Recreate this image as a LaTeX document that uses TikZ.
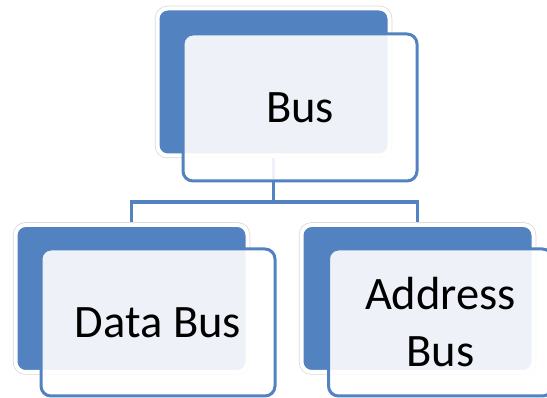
\documentclass[tikz,border=0pt]{standalone}
\usepackage{fontspec}
\setmainfont{Carlito}
\usetikzlibrary{backgrounds}
\definecolor{accent}{HTML}{5283C0}
\definecolor{frontfill}{HTML}{FFFFFF}
\tikzset{
  backbox/.style={rectangle, rounded corners=10pt, fill=accent, draw=white,
    line width=4pt, preaction={draw=black!15, line width=5.5pt},
    minimum width=232pt, minimum height=147pt, inner sep=0pt},
  frontbox/.style={rectangle, rounded corners=10pt, fill=frontfill, fill opacity=0.9,
    text opacity=1, draw=accent, line width=3pt, draw opacity=1,
    minimum width=234pt, minimum height=147pt, inner sep=0pt,
    align=center, font=\fontsize{46.5pt}{57pt}\selectfont},
  link/.style={draw=accent, line width=3.5pt}
}
\begin{document}
\begin{tikzpicture}[x=1pt,y=-1pt]
\useasboundingbox (0,0) rectangle (547,398);

% top level
\node[backbox] (busback) at (273.5,82) {};
\node[frontbox] (bus) at (300,107.5) {Bus};

% second level
\node[backbox] (databack) at (131.5,298.5) {};
\node[frontbox] (data) at (158,322.5) {Data Bus};

\node[backbox] (addrback) at (417.5,298.5) {};
\node[frontbox, minimum width=224pt] (addr) at (440.5,322.5) {Address\\Bus};

% connectors behind the boxes
\coordinate (split) at (273.5,202);
\begin{scope}[on background layer]
  \draw[link] (busback.center) -- (split) -| (databack.center);
  \draw[link] (split) -| (addrback.center);
\end{scope}
\end{tikzpicture}
\end{document}
